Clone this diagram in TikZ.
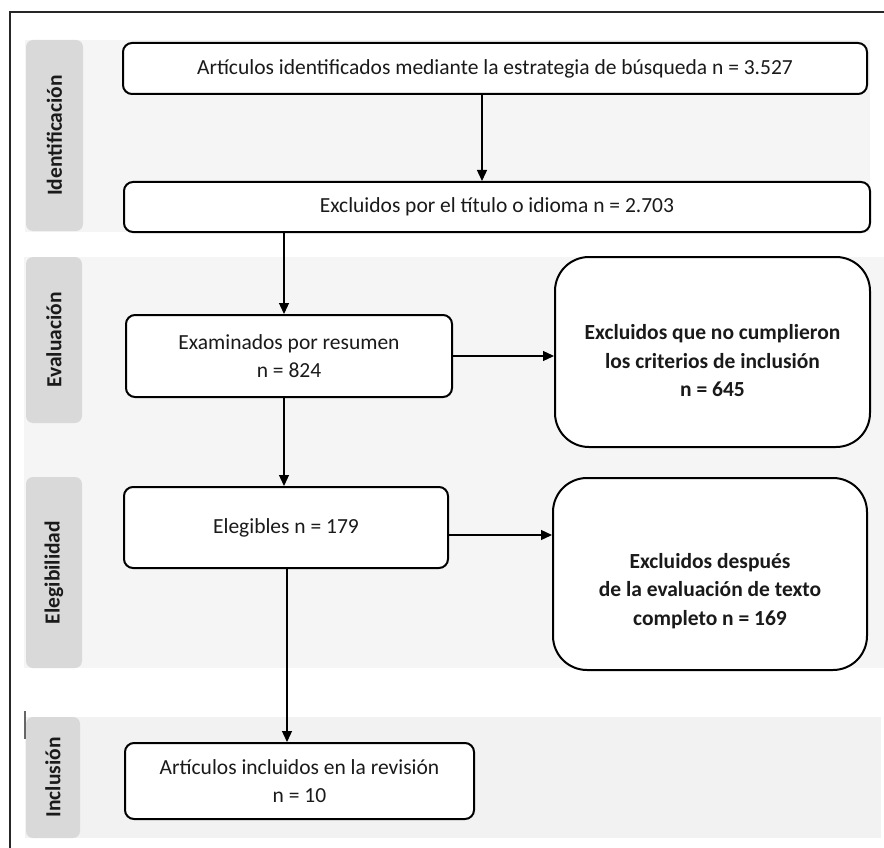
\documentclass[tikz,border=0pt]{standalone}
\usepackage{fontspec}
\setmainfont{Carlito}
\usetikzlibrary{arrows.meta}
\definecolor{bandgray}{HTML}{F5F5F5}
\definecolor{bandgrayb}{HTML}{F2F2F2}
\definecolor{pillgray}{HTML}{D9D9D9}
\definecolor{txt}{HTML}{1A1A1A}
\tikzset{
  pill/.style={fill=pillgray, rounded corners=7pt, rotate=90, inner sep=0pt, text=txt,
    font=\bfseries\fontsize{21.5}{24}\selectfont},
  flowbox/.style={draw=black, line width=2pt, rounded corners=9pt, fill=white, align=center,
    inner sep=0pt, text=txt, font=\fontsize{21.5}{28}\selectfont},
  bigbox/.style={draw=black, line width=2pt, rounded corners=34pt, fill=white, inner sep=0pt},
  bigtxt/.style={align=center, text=txt, font=\bfseries\fontsize{21.5}{28.5}\selectfont},
  arr/.style={line width=1.3pt, -{Triangle[length=11pt,width=10pt]}},
}
\begin{document}
\begin{tikzpicture}[x=1pt,y=-1pt]
\useasboundingbox (0,0) rectangle (884,848);
% frame
\draw[line width=2.2pt, black!85] (10,848) -- (10,12) -- (884,12);
% bands
\fill[bandgray] (25,40) rectangle (870,232);
\fill[bandgray] (24,257) rectangle (884,668);
\fill[bandgrayb] (25,717) rectangle (881,838);
\draw[line width=2pt, black!60] (25,711) -- (25,739);
% phase labels
\node[pill, minimum width=191, minimum height=57] (p1) at (54.5,135.5) {Identificación};
\node[pill, minimum width=166, minimum height=56] (p2) at (54,340) {Evaluación};
\node[pill, minimum width=191, minimum height=56] (p3) at (54,572.5) {Elegibilidad};
\node[pill, minimum width=121, minimum height=54] (p4) at (53,777.5) {Inclusión};
% boxes
\node[flowbox, minimum width=744, minimum height=51] (A) at (495,68.5)
  {Artículos identificados mediante la estrategia de búsqueda n = 3.527};
\node[flowbox, minimum width=746, minimum height=50] (B) at (497,207)
  {Excluidos por el título o idioma n = 2.703};
\node[flowbox, minimum width=326, minimum height=82] (C) at (289,356)
  {Examinados por resumen\\ n = 824};
\node[bigbox, minimum width=315, minimum height=190] (D) at (712.5,352) {};
\node[bigtxt] (Dt) at (712.5,361) {Excluidos que no cumplieron\\ los criterios de inclusión\\ n = 645};
\node[flowbox, minimum width=324, minimum height=81] (E) at (286,527.5)
  {Elegibles n = 179};
\node[bigbox, minimum width=314, minimum height=192] (F) at (710,574) {};
\node[bigtxt] (Ft) at (710,591) {Excluidos después\\ de la evaluación de texto\\ completo n = 169};
\node[flowbox, minimum width=349, minimum height=76] (G) at (299.5,781)
  {Artículos incluidos en la revisión\\ n = 10};
% connectors
\draw[arr] ([xshift=-13pt]A.south) -- ([xshift=-13pt]A.south |- B.north);
\draw[arr] ([xshift=-5pt]C.north |- B.south) -- ([xshift=-5pt]C.north);
\draw[arr] (C.east) -- (C.east -| D.west);
\draw[arr] ([xshift=-5pt]C.south) -- ([xshift=-5pt]C.south |- E.north);
\draw[arr] ([yshift=-7.5pt]E.east) -- ([yshift=-7.5pt]E.east -| F.west);
\draw[arr] ([xshift=1pt]E.south) -- ([xshift=1pt]E.south |- G.north);
\end{tikzpicture}
\end{document}
